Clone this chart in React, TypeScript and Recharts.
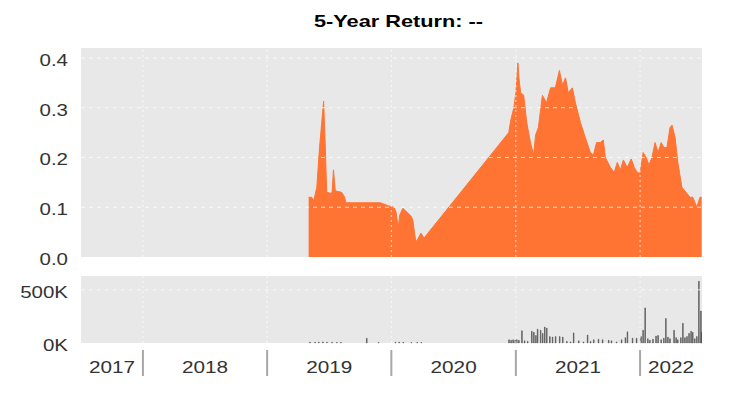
import {
    AreaChart,
    Area,
    ComposedChart,
    Bar,
    XAxis,
    YAxis,
    CartesianGrid,
    ReferenceLine,
} from 'recharts';

// return series
const returnDates = [
    '2019-05-03', '2019-05-12', '2019-05-18', '2019-05-27', '2019-06-04', '2019-06-16', '2019-06-21',
    '2019-06-25', '2019-07-07', '2019-07-11', '2019-07-15', '2019-07-20', '2019-07-24', '2019-08-08',
    '2019-08-17', '2019-08-20', '2019-11-30', '2019-12-23', '2020-01-09', '2020-01-15', '2020-01-21',
    '2020-01-26', '2020-02-04', '2020-02-16', '2020-02-28', '2020-03-04', '2020-03-13', '2020-03-22',
    '2020-03-28', '2020-04-06', '2020-12-11', '2020-12-17', '2020-12-26', '2021-01-01', '2021-01-07',
    '2021-01-10', '2021-01-15', '2021-01-24', '2021-02-02', '2021-02-13', '2021-02-22', '2021-02-28',
    '2021-03-08', '2021-03-20', '2021-04-01', '2021-04-13', '2021-04-27', '2021-05-09', '2021-05-18',
    '2021-05-27', '2021-06-04', '2021-06-16', '2021-06-25', '2021-07-10', '2021-07-24', '2021-08-08',
    '2021-08-17', '2021-08-26', '2021-09-06', '2021-09-15', '2021-09-21', '2021-10-06', '2021-10-17',
    '2021-10-26', '2021-11-04', '2021-11-13', '2021-11-24', '2021-12-06', '2021-12-15', '2021-12-24',
    '2022-01-01', '2022-01-10', '2022-01-19', '2022-01-27', '2022-02-05', '2022-02-14', '2022-02-23',
    '2022-03-04', '2022-03-12', '2022-03-21', '2022-03-30', '2022-04-05', '2022-04-14', '2022-04-22',
    '2022-05-04', '2022-05-16', '2022-05-28', '2022-06-05', '2022-06-17', '2022-06-26', '2022-07-01',
];
const returnValues = [
    0.12, 0.12, 0.113, 0.14, 0.22, 0.313, 0.22,
    0.13, 0.128, 0.13, 0.175, 0.135, 0.132, 0.13,
    0.12, 0.109, 0.109, 0.103, 0.1, 0.09, 0.06,
    0.085, 0.098, 0.09, 0.082, 0.075, 0.03, 0.04,
    0.048, 0.038, 0.25, 0.275, 0.3, 0.33, 0.39,
    0.36, 0.33, 0.325, 0.27, 0.23, 0.205, 0.245,
    0.26, 0.325, 0.31, 0.34, 0.34, 0.375, 0.345,
    0.36, 0.33, 0.34, 0.31, 0.27, 0.24, 0.21,
    0.205, 0.23, 0.23, 0.235, 0.2, 0.18, 0.17,
    0.19, 0.175, 0.195, 0.18, 0.197, 0.18, 0.17,
    0.168, 0.21, 0.2, 0.185, 0.2, 0.23, 0.21,
    0.23, 0.22, 0.22, 0.26, 0.265, 0.24, 0.19,
    0.14, 0.13, 0.12, 0.12, 0.1, 0.12, 0.12,
];

// volume series
const volumeDates = [
    '2019-05-07', '2019-05-22', '2019-06-02', '2019-06-14', '2019-06-26', '2019-07-11', '2019-07-25',
    '2019-08-06', '2019-10-21', '2019-11-25', '2020-01-13', '2020-01-24', '2020-02-05', '2020-02-29',
    '2020-03-17', '2020-03-29', '2020-12-12', '2020-12-18', '2020-12-24', '2020-12-30', '2021-01-04',
    '2021-01-10', '2021-01-19', '2021-01-27', '2021-02-05', '2021-02-17', '2021-02-23', '2021-03-01',
    '2021-03-06', '2021-03-15', '2021-03-21', '2021-03-27', '2021-04-02', '2021-04-11', '2021-04-19',
    '2021-04-28', '2021-05-10', '2021-05-19', '2021-05-31', '2021-06-11', '2021-06-20', '2021-07-05',
    '2021-07-19', '2021-07-31', '2021-08-09', '2021-08-18', '2021-09-01', '2021-09-13', '2021-10-01',
    '2021-10-09', '2021-10-24', '2021-11-08', '2021-11-19', '2021-11-25', '2021-12-10', '2021-12-22',
    '2022-01-04', '2022-01-10', '2022-01-16', '2022-01-24', '2022-01-30', '2022-02-08', '2022-02-17',
    '2022-02-23', '2022-03-04', '2022-03-12', '2022-03-18', '2022-03-24', '2022-03-30', '2022-04-11',
    '2022-04-17', '2022-04-22', '2022-05-01', '2022-05-07', '2022-05-13', '2022-05-19', '2022-05-25',
    '2022-05-31', '2022-06-05', '2022-06-11', '2022-06-17', '2022-06-23', '2022-06-29', '2022-07-01',
];
const volumeValues = [
    8000, 6000, 8000, 10000, 7000, 6000, 5000,
    6000, 45000, 5000, 6000, 8000, 6000, 5000,
    5000, 5000, 30000, 25000, 30000, 25000, 30000,
    25000, 115000, 20000, 15000, 110000, 100000, 70000,
    130000, 120000, 90000, 150000, 140000, 60000, 55000,
    60000, 60000, 55000, 15000, 10000, 95000, 20000,
    10000, 75000, 15000, 30000, 35000, 30000, 25000,
    20000, 10000, 30000, 50000, 105000, 45000, 45000,
    60000, 120000, 330000, 40000, 25000, 35000, 65000,
    70000, 30000, 45000, 230000, 55000, 40000, 120000,
    50000, 30000, 50000, 185000, 50000, 60000, 90000,
    110000, 100000, 40000, 60000, 580000, 300000, 100000,
];

const yearLabels = ['2017', '2018', '2019', '2020', '2021', '2022'];
const returnTicks = [0, 0.1, 0.2, 0.3, 0.4];
const volumeTicks = [0, 500000];
const rangeStart = '2017-07-03';
const rangeEnd = '2022-07-02';

const ts = (d: string) => Date.parse(d + 'T00:00:00Z');
const timeDomain = [ts(rangeStart), ts(rangeEnd)];
const yearStarts = yearLabels.slice(1).map((y) => ts(`${y}-01-01`));
const labelPositions = yearLabels.map((y) => {
    const s = Math.max(ts(`${y}-01-01`), timeDomain[0]);
    const e = Math.min(ts(`${Number(y) + 1}-01-01`), timeDomain[1]);
    return (s + e) / 2;
});

const returnData = returnDates.map((d, i) => ({ t: ts(d), r: returnValues[i] }));
const volumeData = volumeDates.map((d, i) => ({ t: ts(d), v: volumeValues[i] }));

const FONT = '"Liberation Sans", Arial, sans-serif';
const ORANGE = '#ff7433';
const PLOT_BG = '#e8e8e8';

const YTick = (props: any) => {
    const { x, y, payload, fmt } = props;
    return (
        <text
            transform={`translate(${x},${y + 8}) scale(1.28,1)`}
            textAnchor="end"
            fontSize={16}
            fill="#333"
            fontFamily={FONT}
        >
            {fmt(payload.value)}
        </text>
    );
};

const XTick = (props: any) => {
    const { x, payload } = props;
    const i = labelPositions.indexOf(payload.value);
    if (i >= 0) {
        return (
            <text
                transform={`translate(${x},103) scale(1.22,1)`}
                textAnchor="middle"
                fontSize={17}
                fill="#333"
                fontFamily={FONT}
            >
                {yearLabels[i]}
            </text>
        );
    }
    return <line x1={x} x2={x} y1={80} y2={106} stroke="#a8a8a8" strokeWidth={2} />;
};

export default function App() {
    return (
        <div style={{ position: 'absolute', left: 0, top: 0, width: 729, height: 411, background: '#fff' }}>
            {/* Title */}
            <svg width={729} height={40} style={{ position: 'absolute', left: 0, top: 0 }}>
                <text
                    transform="translate(398.5,27) scale(1.36,1)"
                    textAnchor="middle"
                    fontSize={16}
                    fontWeight="bold"
                    fill="#000"
                    fontFamily={FONT}
                >
                    5-Year Return: --
                </text>
            </svg>

            {/* Return panel */}
            <div style={{ position: 'absolute', left: 0, top: 0 }}>
                <AreaChart width={729} height={272} data={returnData} margin={{ top: 48, right: 27, left: 0, bottom: 15 }}>
                    <CartesianGrid horizontal={false} vertical={false} fill={PLOT_BG} stroke="none" />
                    <XAxis dataKey="t" type="number" domain={timeDomain} allowDataOverflow hide />
                    <YAxis
                        domain={[0, 0.42]}
                        ticks={returnTicks}
                        width={81}
                        axisLine={false}
                        tickLine={false}
                        tickSize={6}
                        tickMargin={7}
                        interval={0}
                        tick={<YTick fmt={(v: number) => v.toFixed(1)} />}
                    />
                    <Area
                        type="linear"
                        dataKey="r"
                        stroke={ORANGE}
                        strokeWidth={1}
                        fill={ORANGE}
                        fillOpacity={1}
                        isAnimationActive={false}
                        dot={false}
                        activeDot={false}
                    />
                    {returnTicks.slice(1).map((v) => (
                        <ReferenceLine key={'h' + v} y={v} stroke="#fff" strokeOpacity={0.75} strokeDasharray="4 4" />
                    ))}
                    {yearStarts.map((t) => (
                        <ReferenceLine key={'v' + t} x={t} stroke="#fff" strokeOpacity={0.75} strokeDasharray="2 3" />
                    ))}
                </AreaChart>
            </div>

            {/* Volume panel */}
            <div style={{ position: 'absolute', left: 0, top: 270 }}>
                <ComposedChart width={729} height={141} data={volumeData} margin={{ top: 6, right: 27, left: 0, bottom: 0 }}>
                    <CartesianGrid horizontal={false} vertical={false} fill={PLOT_BG} stroke="none" />
                    <XAxis
                        dataKey="t"
                        type="number"
                        domain={timeDomain}
                        allowDataOverflow
                        ticks={[...yearStarts, ...labelPositions]}
                        interval={0}
                        height={68}
                        axisLine={false}
                        tickLine={false}
                        tick={<XTick />}
                    />
                    <YAxis
                        domain={[0, 630000]}
                        ticks={volumeTicks}
                        width={81}
                        axisLine={false}
                        tickLine={false}
                        tickSize={6}
                        tickMargin={7}
                        interval={0}
                        tick={<YTick fmt={(v: number) => `${v / 1000}K`} />}
                    />
                    <Bar dataKey="v" fill="#444" stroke="#555" strokeWidth={0.6} barSize={2.5} isAnimationActive={false} />
                    {volumeTicks.slice(1).map((v) => (
                        <ReferenceLine key={'h' + v} y={v} stroke="#fff" strokeOpacity={0.75} strokeDasharray="4 4" />
                    ))}
                    {yearStarts.map((t) => (
                        <ReferenceLine key={'v' + t} x={t} stroke="#fff" strokeOpacity={0.75} strokeDasharray="2 3" />
                    ))}
                </ComposedChart>
            </div>
        </div>
    );
}
